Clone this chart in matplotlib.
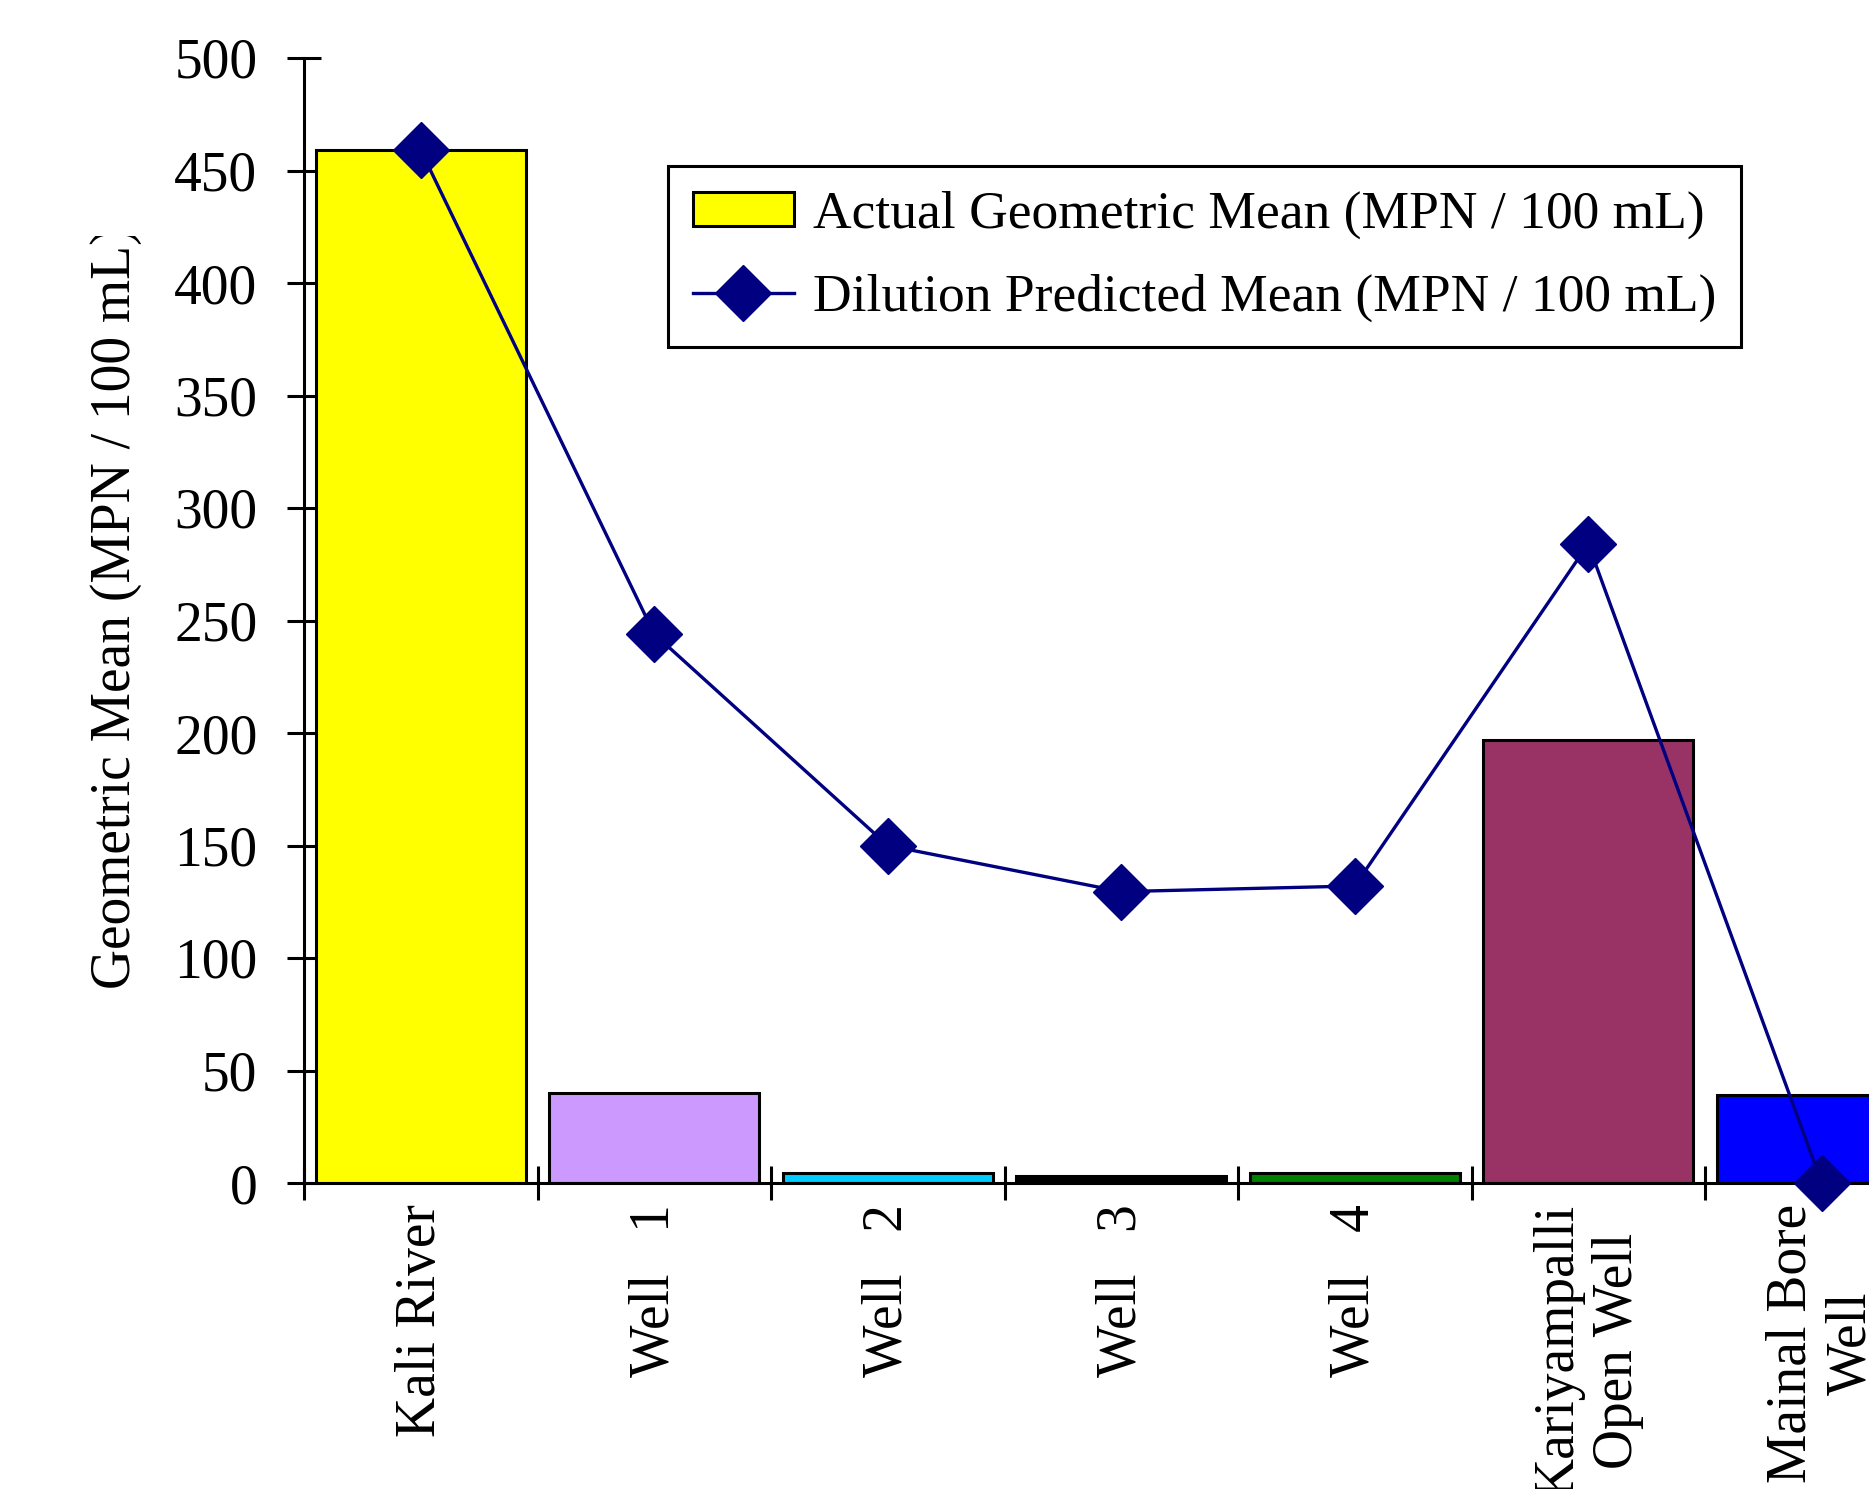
import matplotlib
matplotlib.use("Agg")
import matplotlib.pyplot as plt
from matplotlib.transforms import Bbox
import numpy as np

sites = ["Kali River", "Well   1", "Well   2", "Well   3", "Well   4",
         "Kariyampalli\nOpen Well", "Mainal Bore\nWell"]
actual_mean = [459, 40, 4.5, 3, 4.5, 197, 39]
predicted_mean = [459, 244, 150, 129.5, 132, 284, 0]
bar_colors = ["#FFFF00", "#CC99FF", "#00CCFF", "#000000", "#008000",
              "#993366", "#0000FF"]
yticks = [0, 50, 100, 150, 200, 250, 300, 350, 400, 450, 500]

plt.rcParams['font.family'] = ['Liberation Serif', 'DejaVu Serif']

W, H = 1869, 1489
fig = plt.figure(figsize=(W / 100, H / 100), dpi=100)
# plot area runs past the right edge of the figure
ax = fig.add_axes([304 / W, 306 / H, 1634.5 / W, 1125 / H])

x = np.arange(len(sites))
bars = ax.bar(x, actual_mean, width=0.9, color=bar_colors, edgecolor="black",
              linewidth=2.2, label="Actual Geometric Mean (MPN / 100 mL)",
              zorder=2)
line, = ax.plot(x, predicted_mean, color="#000080", linewidth=2.4, marker="D",
                markersize=29, markeredgewidth=1, clip_on=False, zorder=3,
                label="Dilution Predicted Mean (MPN / 100 mL)")

ax.set_xlim(-0.5, len(sites) - 0.5)
ax.set_ylim(0, 500)
ax.set_yticks(yticks)

# ticks between categories, labels under the bars
ax.set_xticks(np.arange(len(sites) + 1) - 0.5)
ax.set_xticklabels([])
ax.set_xticks(x, minor=True)
ax.set_xticklabels(sites, minor=True, rotation=90, va="top", ha="center",
                   multialignment="center", fontsize=40)
ax.tick_params(axis="x", which="minor", length=0, pad=15)
ax.tick_params(axis="both", which="major", direction="inout", length=25,
               width=2.2, labelsize=40)
ax.tick_params(axis="y", pad=21)

for side in ["top", "right"]:
    ax.spines[side].set_visible(False)
for side in ["left", "bottom"]:
    ax.spines[side].set_linewidth(2.2)

ylab = ax.set_ylabel("Geometric Mean (MPN / 100 mL)", fontsize=40)
ylab.set_va("center")
ax.yaxis.set_label_coords(116 / W, (1489 - 608) / H, transform=fig.transFigure)
ylab.set_clip_box(Bbox([[0, 0], [W, H - 236]]))
ylab.set_clip_on(True)

leg = ax.legend([bars, line], [bars.get_label(), line.get_label()],
                loc="upper left", bbox_to_anchor=(668 / W, 1 - 166 / H),
                bbox_transform=fig.transFigure, borderaxespad=0,
                fontsize=38.5, frameon=True, fancybox=False, edgecolor="black",
                handlelength=1.9, handleheight=0.6, handletextpad=0.36,
                labelspacing=0.66, borderpad=0.46, framealpha=1)
leg.get_frame().set_linewidth(2.2)

fig.savefig("out.png", dpi=100)
